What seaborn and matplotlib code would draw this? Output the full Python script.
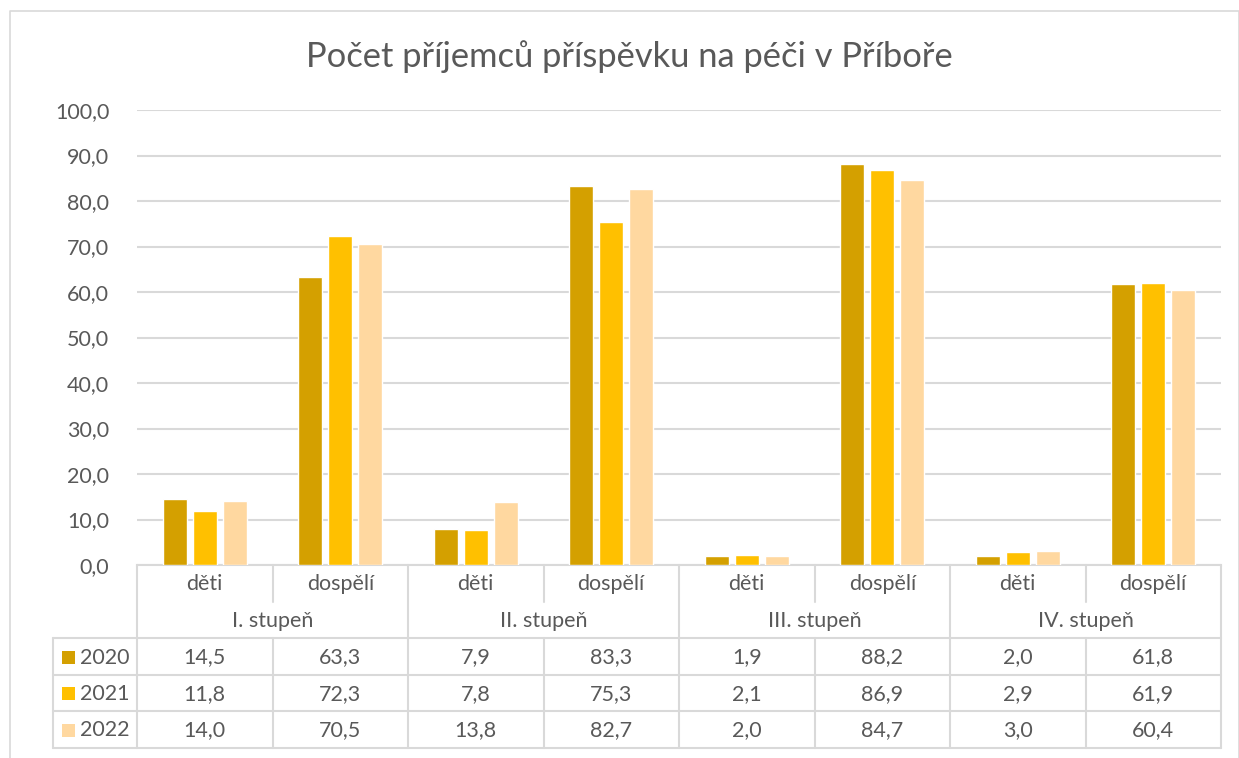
import matplotlib
matplotlib.use("Agg")
import matplotlib.pyplot as plt
import matplotlib.transforms as mtransforms
import seaborn as sns
import pandas as pd

categories = ["děti", "dospělí", "děti", "dospělí", "děti", "dospělí", "děti", "dospělí"]
groups = ["I. stupeň", "II. stupeň", "III. stupeň", "IV. stupeň"]
years = ["2020", "2021", "2022"]
v2020 = [14.5, 63.3, 7.9, 83.3, 1.9, 88.2, 2.0, 61.8]
v2021 = [11.8, 72.3, 7.8, 75.3, 2.1, 86.9, 2.9, 61.9]
v2022 = [14.0, 70.5, 13.8, 82.7, 2.0, 84.7, 3.0, 60.4]
yticks = [0, 10, 20, 30, 40, 50, 60, 70, 80, 90, 100]
title = "Počet příjemců příspěvku na péči v Příboře"

colors = ["#D4A000", "#FFC000", "#FFD8A0"]
txt = "#595959"
grid = "#D9D9D9"

series = [v2020, v2021, v2022]
rows = []
for yr, vals in zip(years, series):
    for i, v in enumerate(vals):
        rows.append({"pos": i, "year": yr, "value": v})
df = pd.DataFrame(rows)

sns.set_theme(style="white")
plt.rcParams["font.family"] = ["Lato", "DejaVu Sans"]

FS = 15.5
W, H = 1239, 758
fig = plt.figure(figsize=(W / 100, H / 100), dpi=100)

L, R, T, B = 137, 1221, 110, 565
ax = fig.add_axes([L / W, 1 - B / H, (R - L) / W, (B - T) / H])
sns.barplot(data=df, x="pos", y="value", hue="year", palette=colors,
            width=0.664, gap=0.2, ax=ax, legend=False, saturation=1,
            errorbar=None, zorder=3)
ax.set_xlim(-0.5, len(categories) - 0.5)
ax.set_ylim(0, 100)
ax.set_yticks(yticks)
ax.set_yticklabels([f"{t:.1f}".replace(".", ",") for t in yticks], color=txt, fontsize=FS)
ax.tick_params(axis="y", length=0, pad=20)
ax.set_xticks([])
ax.set_xlabel("")
ax.set_ylabel("")
for s in ["top", "right", "left"]:
    ax.spines[s].set_visible(False)
ax.spines["bottom"].set_color(grid)
ax.spines["bottom"].set_linewidth(1.5)
ax.yaxis.grid(True, color=grid, linewidth=1.5, zorder=0)
ax.set_axisbelow(True)

# overlay in pixel coords
ov = fig.add_axes([0, 0, 1, 1], facecolor="none")
ov.set_xlim(0, W)
ov.set_ylim(H, 0)
ov.axis("off")

# chart border
ov.plot([10, 10, W, W], [H, 11, 11, H], color=grid, lw=1.2)

tr = mtransforms.blended_transform_factory(ax.transData, ov.transData)

n = len(categories)
cat_top, cat_bot = 565, 602
grp_bot = 638
row_y = [638, 675, 711, 748]
tab_left = 53

# vertical lines
for k in range(n + 1):
    x = k - 0.5
    if k % 2 == 0:
        ov.plot([x, x], [cat_top, row_y[-1]], color=grid, lw=1.5, transform=tr)
    else:
        ov.plot([x, x], [cat_top, cat_bot], color=grid, lw=1.5, transform=tr)
        ov.plot([x, x], [grp_bot, row_y[-1]], color=grid, lw=1.5, transform=tr)
ov.plot([tab_left, tab_left], [row_y[0], row_y[-1]], color=grid, lw=1.5)
for y in row_y:
    ov.plot([tab_left, R], [y, y], color=grid, lw=1.5)

# category and group labels
for i, c in enumerate(categories):
    ov.text(i, (cat_top + cat_bot) / 2 + 1, c, transform=tr, ha="center", va="center",
            color=txt, fontsize=FS)
for g, name in enumerate(groups):
    ov.text(2 * g + 0.5, (cat_bot + grp_bot) / 2 + 1, name, transform=tr, ha="center",
            va="center", color=txt, fontsize=FS)

# table rows
for r, (yr, vals, col) in enumerate(zip(years, series, colors)):
    yc = (row_y[r] + row_y[r + 1]) / 2 + 1
    ov.add_patch(plt.Rectangle((62, yc - 7), 13, 13, color=col, lw=0))
    ov.text(80, yc, yr, ha="left", va="center", color=txt, fontsize=FS)
    for i, v in enumerate(vals):
        ov.text(i, yc, f"{v:.1f}".replace(".", ","), transform=tr, ha="center",
                va="center", color=txt, fontsize=FS)

ov.text(629, 57, title, ha="center", va="center", color=txt, fontsize=24.8)

fig.savefig("out.png", dpi=100)
